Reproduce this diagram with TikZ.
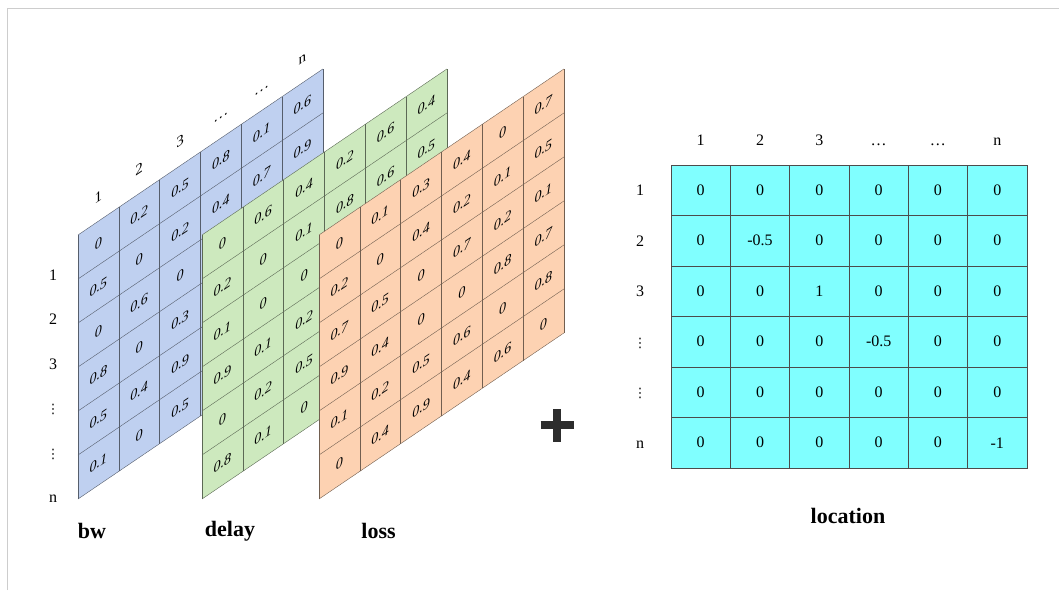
\documentclass[tikz,border=0pt]{standalone}
\usepackage{fontspec}
\setmainfont{Liberation Serif}
\newfontfamily\dotsfont{DejaVu Sans}
\newcommand{\rowdots}{{\dotsfont\fontsize{13}{13}\selectfont ⋮}}
\usetikzlibrary{positioning}
\definecolor{bwcol}{RGB}{191,208,240}
\definecolor{dlcol}{RGB}{205,233,190}
\definecolor{lscol}{RGB}{253,210,178}
\definecolor{loccol}{RGB}{128,255,255}
\definecolor{framecol}{RGB}{205,205,205}
\definecolor{pluscol}{RGB}{45,45,45}

\begin{document}
\begin{tikzpicture}[x=1pt, y=1pt,
      cell/.style={inner sep=0pt, transform shape, font=\fontsize{14}{14}\selectfont\itshape},
      head/.style={inner sep=0pt, anchor=base, transform shape, font=\fontsize{15}{15}\selectfont},
      lbl/.style={inner sep=0pt, anchor=base, font=\fontsize{16}{16}\selectfont},
      title/.style={inner sep=0pt, font=\fontsize{22}{22}\selectfont\bfseries},
      loc/.style={draw=black!70, fill=loccol, minimum width=59.33pt, minimum height=50.5pt, inner sep=0pt, font=\fontsize{16}{16}\selectfont}]
    \useasboundingbox (0,0) rectangle (1059,590);
    \draw[framecol] (7,0) -- (7,582) -- (1059,582);

    % bw panel
    \begin{scope}[shift={(78,91)}, yslant=0.678]
      \fill[bwcol] (0,0) rectangle (244.8,264);
      \foreach \k in {0,...,6} \draw[bwcol!45!black] (\k*40.8,0) -- (\k*40.8,264);
      \foreach \k in {0,...,6} \draw[bwcol!45!black] (0,\k*44) -- (244.8,\k*44);
      \foreach \col [count=\j] in {{0,0.5,0,0.8,0.5,0.1},{0.2,0,0.6,0,0.4,0},{0.5,0.2,0,0.3,0.9,0.5},{0.8,0.4},{0.1,0.7},{0.6,0.9}}
        \foreach \v [count=\i] in \col
          \node[cell] (bw-\i-\j) at (\j*40.8-20.4, 286-\i*44) {\v};
      \foreach \t [count=\j] in {1,2,3,\ldots,\ldots,n}
        \node[head] (bwh-\j) at (\j*40.8-20.4, 283.5) {\t};
    \end{scope}
    \foreach \t [count=\i] in {1,2,3,\rowdots,\rowdots,n}
      \node[lbl] (bwr-\i) at (53, 354-\i*44.4) {\t};

    % delay panel
    \begin{scope}[shift={(202,91)}, yslant=0.678]
      \fill[dlcol] (0,0) rectangle (244.8,264);
      \foreach \k in {0,...,6} \draw[dlcol!45!black] (\k*40.8,0) -- (\k*40.8,264);
      \foreach \k in {0,...,6} \draw[dlcol!45!black] (0,\k*44) -- (244.8,\k*44);
      \foreach \col [count=\j] in {{0,0.2,0.1,0.9,0,0.8},{0.6,0,0,0.1,0.2,0.1},{0.4,0.1,0,0.2,0.5,0},{0.2,0.8},{0.6,0.6},{0.4,0.5}}
        \foreach \v [count=\i] in \col
          \node[cell] (dl-\i-\j) at (\j*40.8-20.4, 286-\i*44) {\v};
    \end{scope}

    % loss panel
    \begin{scope}[shift={(319,91)}, yslant=0.678]
      \fill[lscol] (0,0) rectangle (244.8,264);
      \foreach \k in {0,...,6} \draw[lscol!45!black] (\k*40.8,0) -- (\k*40.8,264);
      \foreach \k in {0,...,6} \draw[lscol!45!black] (0,\k*44) -- (244.8,\k*44);
      \foreach \col [count=\j] in {{0,0.2,0.7,0.9,0.1,0},{0.1,0,0.5,0.4,0.2,0.4},{0.3,0.4,0,0,0.5,0.9},{0.4,0.2,0.7,0,0.6,0.4},{0,0.1,0.2,0.8,0,0.6},{0.7,0.5,0.1,0.7,0.8,0}}
        \foreach \v [count=\i] in \col
          \node[cell] (ls-\i-\j) at (\j*40.8-20.4, 286-\i*44) {\v};
    \end{scope}

    \node[title] (bw)    at (92,59)    {bw};
    \node[title] (delay) at (230,59)   {delay};
    \node[title] (loss)  at (378.5,59) {loss};

    % plus
    \draw[pluscol, line width=8pt] (540.5,165) -- (573.5,165);
    \draw[pluscol, line width=8pt] (557,148.5) -- (557,181.5);

    % location matrix
    \foreach \row [count=\i] in {{0,0,0,0,0,0},{0,-0.5,0,0,0,0},{0,0,1,0,0,0},{0,0,0,-0.5,0,0},{0,0,0,0,0,0},{0,0,0,0,0,-1}}
      \foreach \v [count=\j] in \row
        \node[loc] (loc-\i-\j) at (671+\j*59.33-29.67, 450.25-\i*50.5) {\v};
    \foreach \t [count=\j] in {1,2,3,\ldots,\ldots,n}
      \node[lbl] (locc-\j) at (671+\j*59.33-29.67, 444.6) {\t};
    \foreach \t [count=\i] in {1,2,3,\rowdots,\rowdots,n}
      \node[lbl] (locr-\i) at (640, 444.85-\i*50.5) {\t};
    \node[title] (location) at (848,74) {location};
  \end{tikzpicture}
\end{document}
